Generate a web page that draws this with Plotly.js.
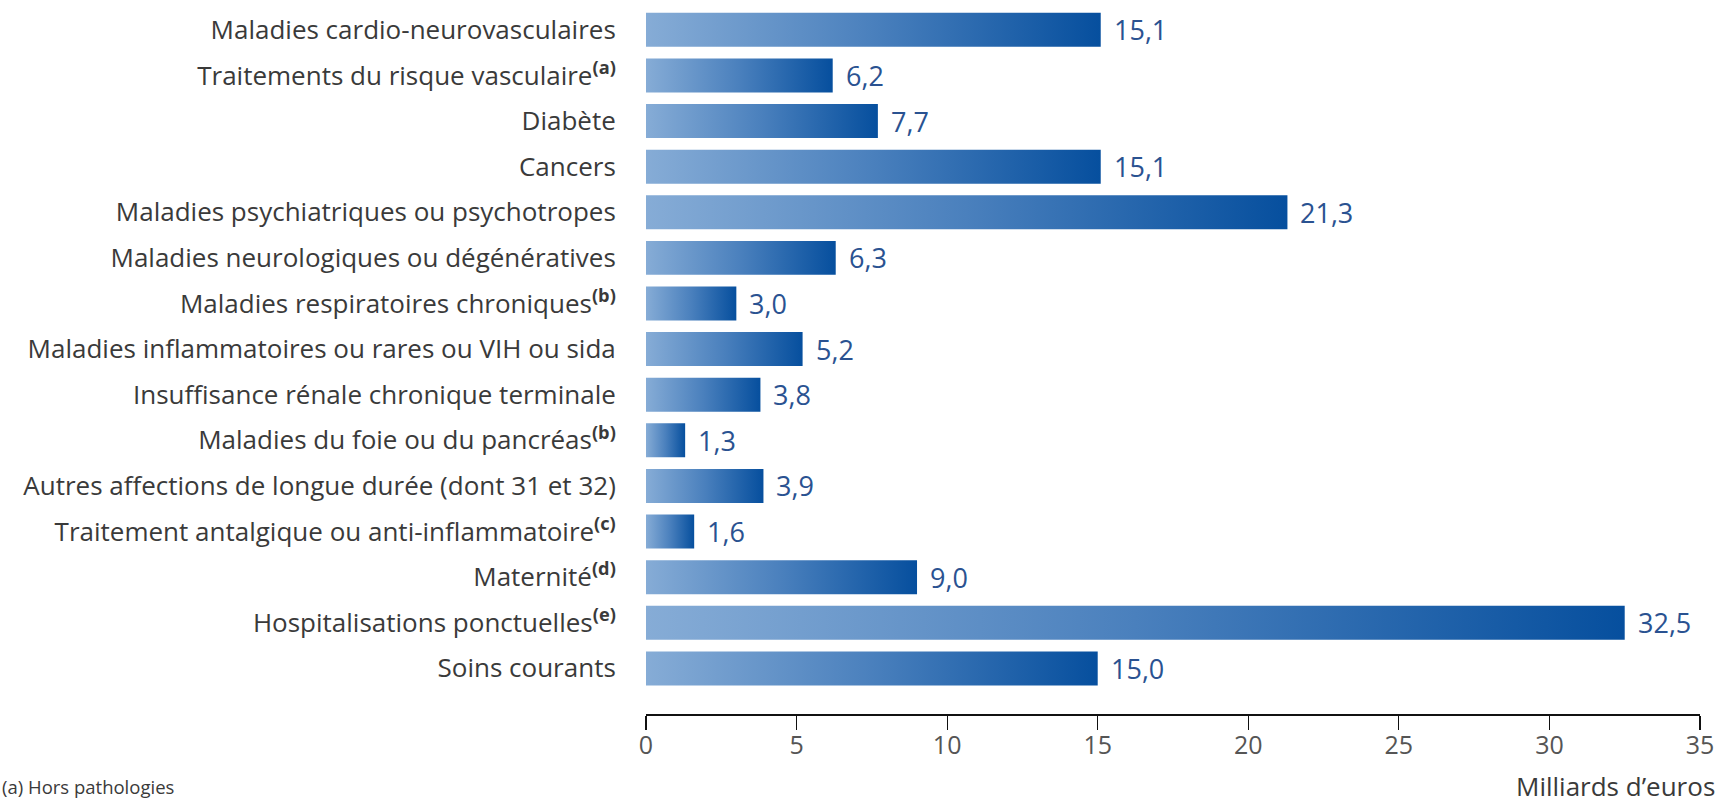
<!DOCTYPE html>
<html>
<head>
<meta charset="utf-8">
<script src="https://cdn.plot.ly/plotly-3.0.1.min.js"></script>
<style>
html,body{margin:0;padding:0;background:#fff;}
#chart{width:1718px;height:803px;}
</style>
</head>
<body>
<div id="chart"></div>
<script>
// Data
const categories = [
  "Maladies cardio-neurovasculaires",
  "Traitements du risque vasculaire<sup><b>(a)</b></sup>",
  "Diabète",
  "Cancers",
  "Maladies psychiatriques ou psychotropes",
  "Maladies neurologiques ou dégénératives",
  "Maladies respiratoires chroniques<sup><b>(b)</b></sup>",
  "Maladies inflammatoires ou rares ou VIH ou sida",
  "Insuffisance rénale chronique terminale",
  "Maladies du foie ou du pancréas<sup><b>(b)</b></sup>",
  "Autres affections de longue durée (dont 31 et 32)",
  "Traitement antalgique ou anti-inflammatoire<sup><b>(c)</b></sup>",
  "Maternité<sup><b>(d)</b></sup>",
  "Hospitalisations ponctuelles<sup><b>(e)</b></sup>",
  "Soins courants"
];
const values = [15.1, 6.2, 7.7, 15.1, 21.3, 6.3, 3.0, 5.2, 3.8, 1.3, 3.9, 1.6, 9.0, 32.5, 15.0];
const xTicks = [0, 5, 10, 15, 20, 25, 30, 35];
const axisTitle = "Milliards d’euros";
const footnote = "(a) Hors pathologies";

const fmt = v => v.toFixed(1).replace(".", ",");
const FONT = "'Open Sans', sans-serif";

const trace = {
  type: "bar",
  orientation: "h",
  y: categories,
  x: values,
  width: 0.745,
  marker: {color: "#3f78b8", line: {width: 0}},
  hoverinfo: "none"
};

const annotations = values.map((v, i) => ({
  x: v, y: categories[i], xref: "x", yref: "y",
  text: fmt(v), showarrow: false, xanchor: "left", yanchor: "middle",
  xshift: 11,
  font: {family: FONT, size: 27, color: "#2a5291"}
}));
annotations.push({
  xref: "paper", yref: "paper", x: -0.6129, y: -0.102,
  xanchor: "left", yanchor: "middle", showarrow: false,
  text: footnote, font: {family: FONT, size: 18.5, color: "#3a3a3a"}
});
annotations.push({
  xref: "paper", yref: "paper", x: 1.016, y: -0.102,
  xanchor: "right", yanchor: "middle", showarrow: false,
  text: axisTitle, font: {family: FONT, size: 26, color: "#3a3a3a"}
});

const layout = {
  width: 1718, height: 803,
  margin: {l: 646, r: 18, t: 7, b: 89, pad: 0},
  paper_bgcolor: "#ffffff", plot_bgcolor: "#ffffff",
  showlegend: false,
  font: {family: FONT, color: "#3a3a3a"},
  xaxis: {
    range: [0, 35], tickvals: xTicks, ticktext: xTicks.map(String),
    showgrid: false, zeroline: false,
    showline: true, linecolor: "#111", linewidth: 1.5,
    ticks: "outside", ticklen: 14, tickwidth: 1.2, tickcolor: "#111",
    ticklabelstandoff: -6,
    tickfont: {family: FONT, size: 25, color: "#555"}
  },
  yaxis: {
    type: "category", range: [15, -0.5],
    showgrid: false, zeroline: false, showline: false,
    ticks: "outside", ticklen: 24, tickcolor: "rgba(0,0,0,0)",
    tickfont: {family: FONT, size: 26, color: "#3a3a3a"}
  },
  annotations: annotations
};

Plotly.newPlot("chart", [trace], layout, {displayModeBar: false, staticPlot: true}).then(gd => {
  const svg = gd.querySelector("svg.main-svg");
  const ns = "http://www.w3.org/2000/svg";
  let defs = svg.querySelector("defs");
  if (!defs) { defs = document.createElementNS(ns, "defs"); svg.insertBefore(defs, svg.firstChild); }
  const lg = document.createElementNS(ns, "linearGradient");
  lg.setAttribute("id", "barGrad");
  lg.setAttribute("x1", "0"); lg.setAttribute("y1", "0");
  lg.setAttribute("x2", "1"); lg.setAttribute("y2", "0");
  [["0", "#86acd6"], ["0.5", "#4a80bd"], ["1", "#064f9e"]].forEach(([o, c]) => {
    const s = document.createElementNS(ns, "stop");
    s.setAttribute("offset", o); s.setAttribute("stop-color", c);
    lg.appendChild(s);
  });
  defs.appendChild(lg);
  gd.querySelectorAll(".bars .point path").forEach(p => {
    p.style.fill = "url(#barGrad)";
  });
});
</script>
</body>
</html>
